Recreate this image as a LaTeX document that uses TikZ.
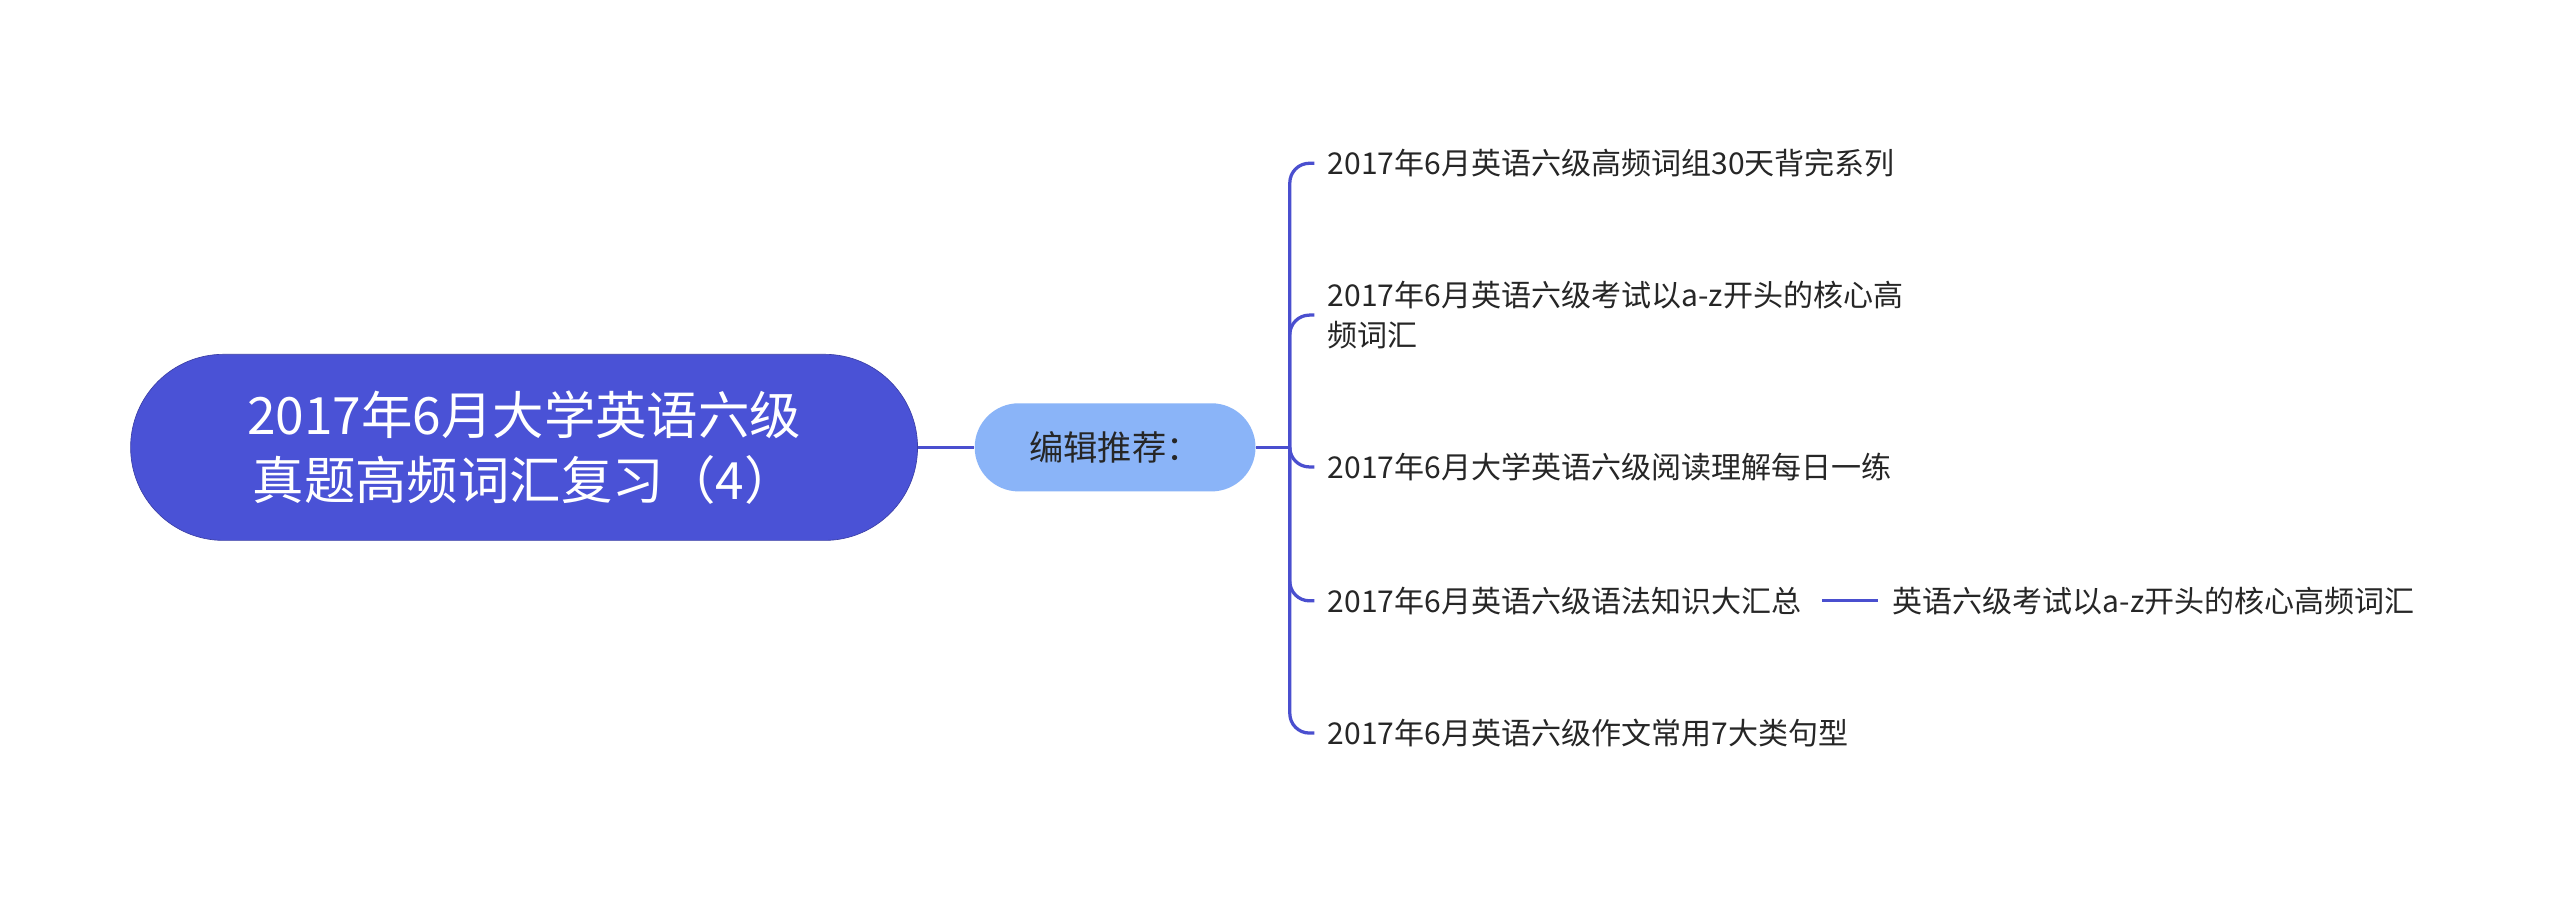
\documentclass[tikz,border=0pt]{standalone}
\usepackage{fontspec}
\setmainfont{Noto Sans CJK SC}
\usetikzlibrary{calc}
\begin{document}
\begin{tikzpicture}[x=1pt,y=-1pt,
  conn/.style={draw=linec,line width=2pt},
  leaf/.style={anchor=west,inner sep=1pt,font=\fontsize{18.4}{24}\selectfont,text=black!85,align=left}]
\definecolor{linec}{HTML}{4A4FCF}
\definecolor{rootc}{HTML}{4A52D6}
\definecolor{midc}{HTML}{8AB4F8}
\useasboundingbox[fill=white] (0,0) rectangle (1568,549);
\node[draw=linec!80!black,fill=rootc,rounded corners=57,minimum width=482,minimum height=114,text=white,align=center,font=\fontsize{31.5}{40}\selectfont] (root) at (321,274) {2017年6月大学英语六级\\真题高频词汇复习（4）};
\node[fill=midc,rounded corners=27,minimum width=172,minimum height=54,font=\fontsize{21}{24}\selectfont,text=black!85] (mid) at (683,274) {编辑推荐：};
\draw[conn] (root.east) -- (mid.west);
\node[leaf] (l1) at (812,100) {2017年6月英语六级高频词组30天背完系列};
\node[leaf] (l2) at (812,193) {2017年6月英语六级考试以a-z开头的核心高\\频词汇};
\node[leaf] (l3) at (812,286) {2017年6月大学英语六级阅读理解每日一练};
\node[leaf] (l4) at (812,368) {2017年6月英语六级语法知识大汇总};
\node[leaf] (l5) at (812,449) {2017年6月英语六级作文常用7大类句型};
\node[leaf] (c1) at (1158,368) {英语六级考试以a-z开头的核心高频词汇};
\coordinate (j) at (790,274);
\draw[conn] (mid.east) -- (j);
\foreach \n/\yy in {l1/100,l2/193,l3/286,l4/368,l5/449}
  \draw[conn,rounded corners=12] (j) |- (805,\yy);
\draw[conn] (1116,368) -- ($(c1.west)+(-8,0)$);
\end{tikzpicture}
\end{document}
